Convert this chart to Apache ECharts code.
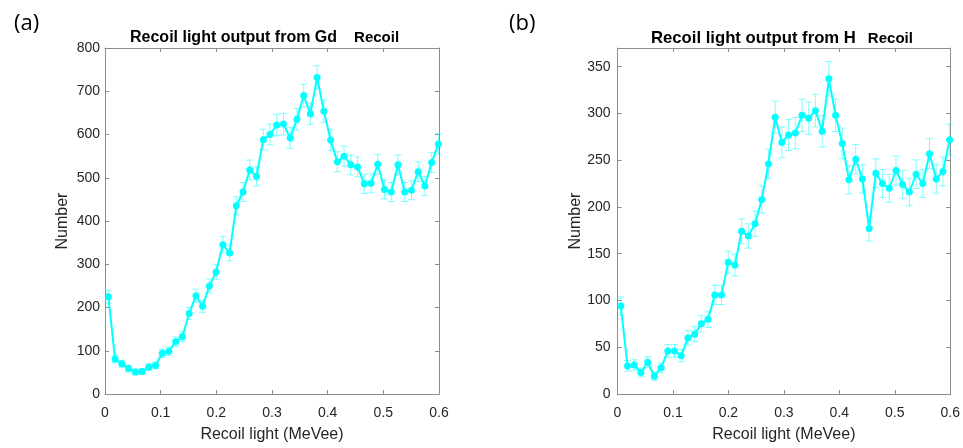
<!DOCTYPE html>
<html>
<head>
<meta charset="utf-8">
<script src="https://cdn.jsdelivr.net/npm/echarts@6/dist/echarts.min.js"></script>
<style>
  html, body { margin: 0; padding: 0; background: #ffffff; }
  #chart { width: 963px; height: 448px; }
</style>
</head>
<body>
<div id="chart"></div>
<script>
// Bin centres of recoil light (MeVee)
const binCenters = [
  0.0060, 0.0181, 0.0302, 0.0423, 0.0544, 0.0665, 0.0786, 0.0907, 0.1028, 0.1149,
  0.1270, 0.1391, 0.1512, 0.1633, 0.1754, 0.1875, 0.1996, 0.2117, 0.2238, 0.2359,
  0.2480, 0.2601, 0.2722, 0.2843, 0.2964, 0.3085, 0.3206, 0.3327, 0.3448, 0.3569,
  0.3690, 0.3811, 0.3932, 0.4053, 0.4174, 0.4295, 0.4416, 0.4537, 0.4658, 0.4779,
  0.4900, 0.5021, 0.5142, 0.5263, 0.5384, 0.5505, 0.5626, 0.5747, 0.5868, 0.5989
];

// (a) counts for Gd recoil and their uncertainties
const gdCounts = [
  225, 81, 70, 59, 51, 52, 62, 66, 94, 99,
  121, 133, 186, 227, 203, 250, 282, 345, 326, 435,
  467, 518, 503, 588, 600, 622, 624, 592, 635, 690,
  648, 732, 654, 587, 537, 550, 530, 525, 486, 487,
  531, 473, 467, 530, 467, 471, 514, 481, 535, 578
];
const gdErrors = [
  15, 9, 8, 8, 7, 7, 8, 8, 10, 10,
  11, 12, 14, 15, 14, 16, 17, 19, 18, 21,
  22, 23, 22, 24, 24, 25, 25, 24, 25, 26,
  25, 27, 26, 24, 23, 23, 23, 23, 22, 22,
  23, 22, 22, 23, 22, 22, 23, 22, 23, 24
];

// (b) counts for H recoil and their uncertainties
const hCounts = [
  94, 30, 31, 23, 34, 19, 28, 46, 46, 41,
  60, 64, 75, 80, 106, 106, 141, 138, 174, 169,
  182, 208, 246, 296, 269, 277, 279, 298, 295, 303,
  281, 337, 298, 268, 229, 251, 230, 177, 236, 225,
  220, 239, 224, 216, 235, 225, 257, 230, 238, 272
];
const hErrors = [
  9.7, 5.5, 5.6, 4.8, 5.8, 4.4, 5.3, 6.8, 6.8, 6.4,
  7.7, 8.0, 8.7, 8.9, 10.3, 10.3, 11.9, 11.7, 13.2, 13.0,
  13.5, 14.4, 15.7, 17.2, 16.4, 16.6, 16.7, 17.3, 17.2, 17.4,
  16.8, 18.4, 17.3, 16.4, 15.1, 15.8, 15.2, 13.3, 15.4, 15.0,
  14.8, 15.5, 15.0, 14.7, 15.3, 15.0, 16.0, 15.2, 15.4, 16.5
];

// Axis ranges and tick steps
const xRange = [0, 0.6];
const xStep = 0.1;
const gdYRange = [0, 800];
const gdYStep = 100;
const hYRange = [0, 370];
const hYStep = 50;

const lineColor = '#00ffff';
const errColor = 'rgba(0, 255, 255, 0.5)';
const boxColor = '#8c8c8c';
const textColor = '#262626';
const fontFamily = '"Liberation Sans", Arial, Helvetica, sans-serif';

function pairs(xs, ys) { return xs.map((x, i) => [x, ys[i]]); }
function bars(xs, ys, es) { return xs.map((x, i) => [x, ys[i] - es[i], ys[i] + es[i]]); }

function errorBarItem(params, api) {
  const x = api.value(0);
  const lo = api.coord([x, api.value(1)]);
  const hi = api.coord([x, api.value(2)]);
  const half = 3.5;
  const style = { stroke: errColor, lineWidth: 1, fill: null };
  return {
    type: 'group',
    children: [
      { type: 'line', shape: { x1: hi[0], y1: hi[1], x2: lo[0], y2: lo[1] }, style },
      { type: 'line', shape: { x1: hi[0] - half, y1: hi[1], x2: hi[0] + half, y2: hi[1] }, style },
      { type: 'line', shape: { x1: lo[0] - half, y1: lo[1], x2: lo[0] + half, y2: lo[1] }, style }
    ]
  };
}

function boxLine() { return { show: true, onZero: false, lineStyle: { color: boxColor, width: 1 } }; }
function innerTicks() { return { show: true, inside: true, length: 4, lineStyle: { color: boxColor } }; }

function bottomX(grid) {
  return {
    type: 'value', gridIndex: grid, position: 'bottom',
    min: xRange[0], max: xRange[1], interval: xStep,
    axisLine: boxLine(), axisTick: innerTicks(), splitLine: { show: false },
    axisLabel: { color: textColor, fontSize: 14, fontFamily, margin: 12 },
    name: 'Recoil light (MeVee)', nameLocation: 'middle', nameGap: 33,
    nameTextStyle: { color: textColor, fontSize: 16, fontFamily }
  };
}
function topX(grid) {
  return {
    type: 'value', gridIndex: grid, position: 'top',
    min: xRange[0], max: xRange[1], interval: xStep,
    axisLine: boxLine(), axisTick: innerTicks(), splitLine: { show: false },
    axisLabel: { show: false }
  };
}
function leftY(grid, range, step, margin) {
  return {
    type: 'value', gridIndex: grid, position: 'left',
    min: range[0], max: range[1], interval: step,
    axisLine: boxLine(), axisTick: innerTicks(), splitLine: { show: false },
    axisLabel: { color: textColor, fontSize: 14, fontFamily, margin, showMaxLabel: range[1] % step === 0 },
    name: 'Number', nameLocation: 'middle', nameGap: 34, nameRotate: 90,
    nameTextStyle: { color: textColor, fontSize: 16, fontFamily }
  };
}
function rightY(grid, range, step) {
  return {
    type: 'value', gridIndex: grid, position: 'right',
    min: range[0], max: range[1], interval: step,
    axisLine: boxLine(), axisTick: innerTicks(), splitLine: { show: false },
    axisLabel: { show: false }
  };
}

function seriesPair(axisIdx, counts, errors) {
  return [
    {
      type: 'custom', xAxisIndex: axisIdx, yAxisIndex: axisIdx,
      renderItem: errorBarItem, encode: { x: 0, y: [1, 2] },
      data: bars(binCenters, counts, errors), z: 2, silent: true
    },
    {
      type: 'line', xAxisIndex: axisIdx, yAxisIndex: axisIdx,
      data: pairs(binCenters, counts),
      symbol: 'circle', symbolSize: 7, showSymbol: true,
      lineStyle: { color: lineColor, width: 2 },
      itemStyle: { color: lineColor },
      z: 3, animation: false
    }
  ];
}

function titleRich(mainSize, tailGap) {
  return {
    m: { fontSize: mainSize, fontWeight: 'bold', color: '#000', fontFamily },
    s: { fontSize: 15, fontWeight: 'bold', color: '#000', fontFamily, padding: [0, 0, 0, tailGap] }
  };
}

const panelFont = '"Open Sans", "Noto Sans", sans-serif';

const chart = echarts.init(document.getElementById('chart'), null, { renderer: 'canvas' });
chart.setOption({
  animation: false,
  backgroundColor: '#ffffff',
  title: [
    {
      text: '{m|Recoil light output from Gd}{s|Recoil}',
      left: 130, top: 30, padding: 0,
      textStyle: { rich: titleRich(16, 17) }
    },
    {
      text: '{m|Recoil light output from H}{s|Recoil}',
      left: 651, top: 30, padding: 0,
      textStyle: { rich: titleRich(16.7, 12) }
    },
    {
      text: '(a)', left: 9, top: 8,
      textStyle: { fontSize: 22, fontWeight: 'normal', color: '#000', fontFamily: panelFont }
    },
    {
      text: '(b)', left: 504, top: 8,
      textStyle: { fontSize: 22, fontWeight: 'normal', color: '#000', fontFamily: panelFont }
    }
  ],
  grid: [
    { left: 105, top: 48, width: 334, height: 352, containLabel: false },
    { left: 617.5, top: 48, width: 335, height: 352, containLabel: false }
  ],
  xAxis: [bottomX(0), topX(0), bottomX(1), topX(1)],
  yAxis: [
    leftY(0, gdYRange, gdYStep, 5), rightY(0, gdYRange, gdYStep),
    leftY(1, hYRange, hYStep, 7), rightY(1, hYRange, hYStep)
  ],
  series: [
    ...seriesPair(0, gdCounts, gdErrors),
    ...seriesPair(2, hCounts, hErrors)
  ]
});
</script>
</body>
</html>
